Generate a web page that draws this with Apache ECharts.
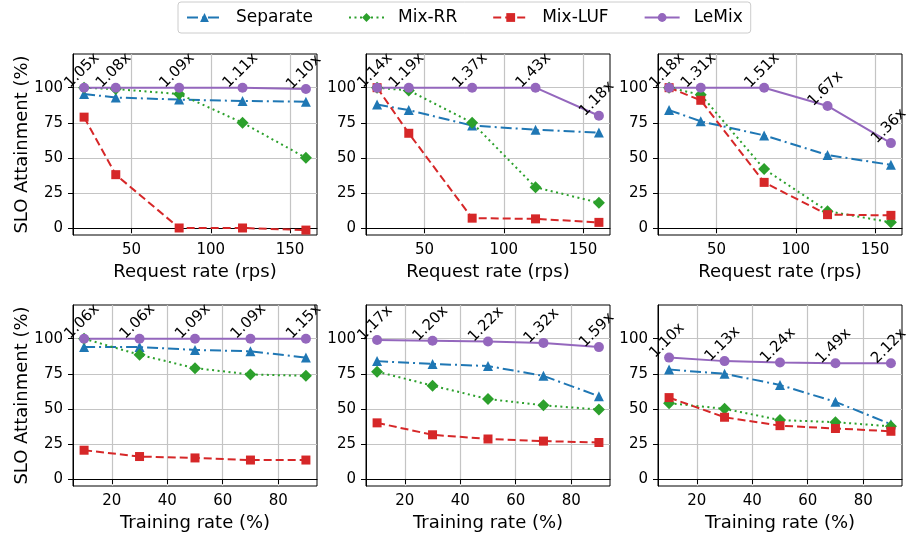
<!DOCTYPE html>
<html>
<head>
<meta charset="utf-8">
<script src="https://cdn.jsdelivr.net/npm/echarts@6.0.0/dist/echarts.min.js"></script>
<style>
  html, body { margin: 0; padding: 0; background: #fff; }
  #chart { width: 907px; height: 537px; }
</style>
</head>
<body>
<div id="chart"></div>
<script>
// x values
const requestRates = [20, 40, 80, 120, 160];
const trainingRates = [10, 30, 50, 70, 90];
const requestTicks = [50, 100, 150];
const trainingTicks = [20, 40, 60, 80];
const sloTicks = [0, 25, 50, 75, 100];

// one row per panel: 3 request-rate panels, then 3 training-rate panels
const separate = [
  [95.5, 93, 91.5, 90.5, 90],
  [88, 84, 73, 70, 68],
  [84, 76, 66, 52, 45],
  [94, 94, 92, 91, 86.5],
  [84, 82, 80.5, 73.5, 59],
  [78, 75, 67, 55, 39]
];
const mixRR = [
  [100, 99, 95.5, 75, 50],
  [100, 98, 75, 29, 18],
  [100, 95, 42, 12, 4],
  [100, 88.5, 79, 74.5, 73.5],
  [76.5, 66.5, 57, 52.5, 49.5],
  [54, 50, 42, 40.5, 37.5]
];
const mixLUF = [
  [79, 38, 0, 0, -1.5],
  [100, 67.5, 7, 6.5, 4],
  [100, 91, 32.5, 9.5, 9],
  [20.5, 16, 15, 13.5, 13.5],
  [40, 31.5, 28.5, 27, 26],
  [58, 44, 38, 36, 34]
];
const leMix = [
  [100, 100, 100, 100, 99],
  [100, 100, 100, 100, 80],
  [100, 100, 100, 87, 60.5],
  [100, 100, 100, 100, 100],
  [99, 98.5, 98, 97, 94],
  [86.5, 84, 83, 82.5, 82.5]
];
// speedup annotations over LeMix points
const speedups = [
  ["1.05x", "1.08x", "1.09x", "1.11x", "1.10x"],
  ["1.14x", "1.19x", "1.37x", "1.43x", "1.18x"],
  ["1.18x", "1.31x", "1.51x", "1.67x", "1.36x"],
  ["1.06x", "1.06x", "1.09x", "1.09x", "1.15x"],
  ["1.17x", "1.20x", "1.22x", "1.32x", "1.59x"],
  ["1.10x", "1.13x", "1.24x", "1.49x", "2.12x"]
];

const FONT = "DejaVu Sans";
const gridLefts = [73, 366, 658];
const gridTops = [54, 305];

const methods = [
  { name: "Separate", data: separate, color: "#1f77b4", symbol: "triangle", size: 10, dash: [11, 4, 2, 4] },
  { name: "Mix-RR", data: mixRR, color: "#2ca02c", symbol: "diamond", size: 12, dash: [2, 3.5] },
  { name: "Mix-LUF", data: mixLUF, color: "#d62728", symbol: "rect", size: 9, dash: [8, 4] },
  { name: "LeMix", data: leMix, color: "#9467bd", symbol: "circle", size: 10, dash: "solid" }
];

const grids = [], xAxes = [], yAxes = [], series = [];

for (let p = 0; p < 6; p++) {
  const row = p < 3 ? 0 : 1;
  const col = p % 3;
  const xs = row === 0 ? requestRates : trainingRates;
  const xTicks = row === 0 ? requestTicks : trainingTicks;

  grids.push({
    left: gridLefts[col], top: gridTops[row], width: 244, height: 181,
    show: true, borderColor: "#000", borderWidth: 1, backgroundColor: "transparent",
    outerBoundsMode: "none", containLabel: false
  });

  xAxes.push({
    type: "value", gridIndex: p,
    min: row === 0 ? 13 : 6,
    max: row === 0 ? 167 : 94,
    name: row === 0 ? "Request rate (rps)" : "Training rate (%)",
    nameLocation: "middle", nameGap: 28, nameMoveOverlap: false,
    nameTextStyle: { fontFamily: FONT, fontSize: 18, color: "#000" },
    axisLine: { show: true, lineStyle: { color: "#000", width: 1 } },
    axisTick: { show: true, length: 5, customValues: xTicks, lineStyle: { color: "#000", width: 1 } },
    axisLabel: { customValues: xTicks, margin: 8, fontFamily: FONT, fontSize: 15, color: "#000" },
    splitLine: { show: true, lineStyle: { color: "#c4c4c4", width: 1.2 } }
  });

  yAxes.push({
    type: "value", gridIndex: p, min: -5, max: 124,
    name: col === 0 ? "SLO Attainment (%)" : "",
    nameLocation: "middle", nameGap: 42, nameMoveOverlap: false,
    nameTextStyle: { fontFamily: FONT, fontSize: 18, color: "#000" },
    axisLine: { show: true, lineStyle: { color: "#000", width: 1 } },
    axisTick: { show: true, length: 5, customValues: sloTicks, lineStyle: { color: "#000", width: 1 } },
    axisLabel: { customValues: sloTicks, margin: 10, fontFamily: FONT, fontSize: 15, color: "#000" },
    splitLine: { show: true, lineStyle: { color: "#c4c4c4", width: 1.2 } }
  });

  methods.forEach((m) => {
    series.push({
      name: m.name, type: "line",
      xAxisIndex: p, yAxisIndex: p,
      data: xs.map((x, i) => [x, m.data[p][i]]),
      symbol: m.symbol, symbolSize: m.size, showAllSymbol: true,
      lineStyle: { color: m.color, width: 2, type: m.dash },
      itemStyle: { color: m.color },
      animation: false, silent: true
    });
  });

  // rotated speedup text above each LeMix point
  const labels = speedups[p];
  series.push({
    name: "speedup", type: "custom",
    xAxisIndex: p, yAxisIndex: p, clip: false, silent: true, z: 5,
    data: xs.map((x, i) => [x, leMix[p][i]]),
    renderItem: (params, api) => {
      const pt = api.coord([api.value(0), api.value(1)]);
      return {
        type: "text",
        x: pt[0] - 2, y: pt[1] - 17,
        rotation: Math.PI / 4,
        style: {
          text: labels[params.dataIndex],
          fontFamily: FONT, fontSize: 15, fill: "#000",
          align: "center", verticalAlign: "middle"
        }
      };
    }
  });
}

const chart = echarts.init(document.getElementById("chart"), null, { renderer: "canvas" });
chart.setOption({
  animation: false,
  backgroundColor: "#fff",
  legend: {
    top: 2, left: 178,
    orient: "horizontal",
    data: methods.map((m) => m.name),
    itemWidth: 35, itemHeight: 11, itemGap: 35,
    padding: [7, 8],
    borderColor: "#cccccc", borderWidth: 1, borderRadius: 3,
    textStyle: { fontFamily: FONT, fontSize: 17, color: "#000", padding: [0, 0, 0, 9] }
  },
  grid: grids,
  xAxis: xAxes,
  yAxis: yAxes,
  series: series
});
</script>
</body>
</html>
